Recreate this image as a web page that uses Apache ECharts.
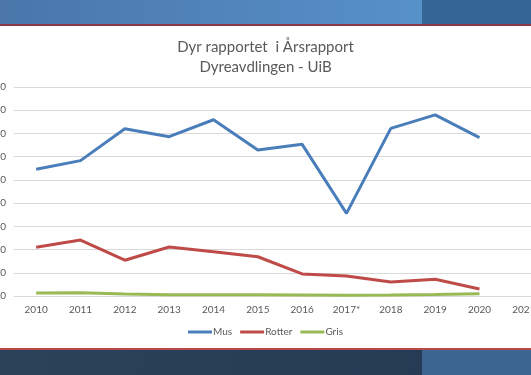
<!DOCTYPE html>
<html><head><meta charset="utf-8">
<script src="https://cdn.jsdelivr.net/npm/echarts@6/dist/echarts.min.js"></script>
<style>html,body{margin:0;padding:0;background:#fff}#c{width:531px;height:375px}</style>
</head><body><div id="c"></div>
<script>
const categories = ['2010','2011','2012','2013','2014','2015','2016','2017*','2018','2019','2020','2021'];
const mus    = [5460, 5830, 7200, 6860, 7590, 6290, 6530, 3560, 7220, 7800, 6820, null];
const rotter = [2100, 2410, 1540, 2110, 1910, 1690, 950, 860, 600, 720, 300, null];
const gris   = [130, 140, 90, 50, 50, 50, 40, 30, 40, 60, 100, null];
const yTicks = {min: 0, max: 9000, interval: 1000};

const chart = echarts.init(document.getElementById('c'), null, {renderer: 'canvas'});
const font = 'Lato, "Open Sans", sans-serif';
chart.setOption({
  animation: false,
  backgroundColor: '#ffffff',
  graphic: [
    {type:'rect', shape:{x:0,y:0,width:531,height:25}, style:{fill:new echarts.graphic.LinearGradient(0,0,1,0,[{offset:0,color:'#4a76aa'},{offset:1,color:'#5a98d2'}])}, z:-10},
    {type:'rect', shape:{x:422,y:0,width:109,height:25}, style:{fill:'#336597'}, z:-9},
    {type:'rect', shape:{x:0,y:24,width:531,height:2}, style:{fill:'#8a3a4a'}, z:-8},
    {type:'rect', shape:{x:0,y:350,width:531,height:25}, style:{fill:new echarts.graphic.LinearGradient(0,0,1,0,[{offset:0,color:'#2b4259'},{offset:1,color:'#233a52'}])}, z:-10},
    {type:'rect', shape:{x:422,y:350,width:109,height:25}, style:{fill:'#3d6591'}, z:-9},
    {type:'rect', shape:{x:0,y:348,width:531,height:2}, style:{fill:'#b8484a'}, z:-8}
  ],
  title: {
    text: 'Dyr rapportet  i Årsrapport\nDyreavdlingen - UiB',
    left: 'center', top: 32,
    textStyle: {fontFamily: font, fontSize: 15, fontWeight: 'normal', color: '#595959', lineHeight: 20}
  },
  legend: {
    bottom: 33, left: 'center',
    itemWidth: 24, itemHeight: 3, itemGap: 8,
    icon: 'rect',
    textStyle: {fontFamily: font, fontSize: 10, color: '#595959', padding: [0,0,0,-4]},
    data: ['Mus','Rotter','Gris']
  },
  grid: {left: 14, top: 87, width: 532, height: 209, containLabel: false, outerBoundsMode: 'none'},
  xAxis: {
    type: 'category', data: categories, boundaryGap: true,
    axisLine: {lineStyle: {color: '#d9d9d9'}},
    axisTick: {show: false},
    axisLabel: {fontFamily: font, fontSize: 10, color: '#595959', margin: 9, interval: 0}
  },
  yAxis: {
    type: 'value', min: yTicks.min, max: yTicks.max, interval: yTicks.interval,
    axisLine: {show: false}, axisTick: {show: false},
    splitLine: {lineStyle: {color: '#d9d9d9', width: 1}},
    axisLabel: {fontFamily: font, fontSize: 10, color: '#595959', margin: 8, formatter: function (v) { return String(v); }}
  },
  series: [
    {name: 'Mus', type: 'line', data: mus, symbol: 'none', lineStyle: {width: 3, color: '#4a7ebb'}, itemStyle: {color: '#4a7ebb'}},
    {name: 'Rotter', type: 'line', data: rotter, symbol: 'none', lineStyle: {width: 3, color: '#be4b48'}, itemStyle: {color: '#be4b48'}},
    {name: 'Gris', type: 'line', data: gris, symbol: 'none', lineStyle: {width: 3, color: '#98b954'}, itemStyle: {color: '#98b954'}}
  ]
});
</script></body></html>
